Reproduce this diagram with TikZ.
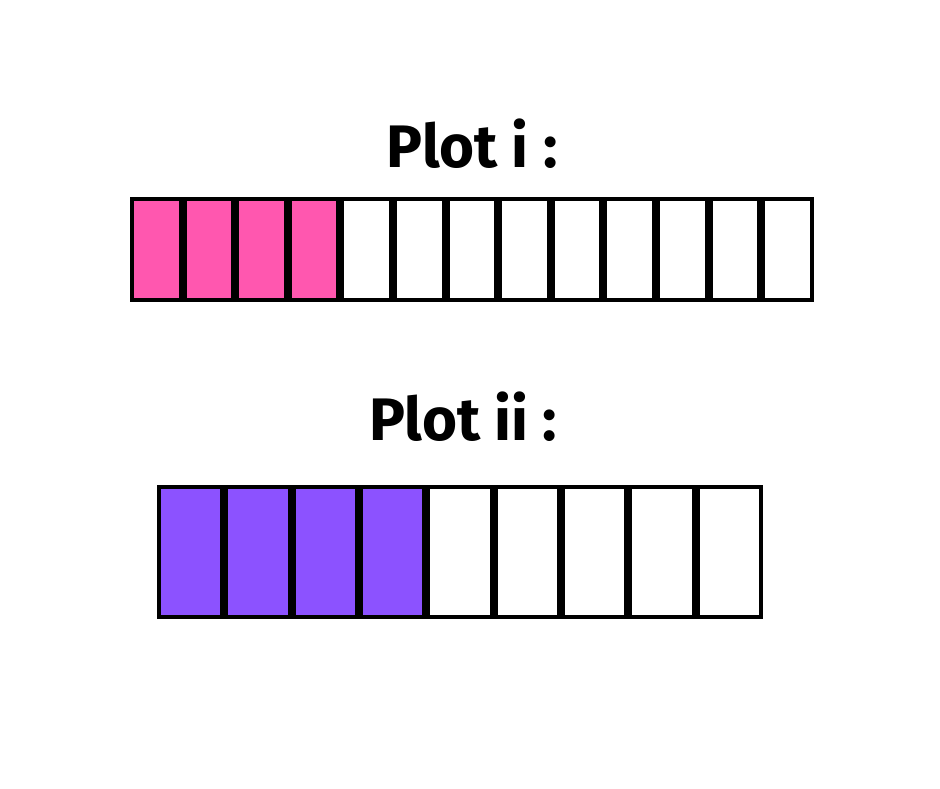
\documentclass[tikz,border=0pt]{standalone}
\usepackage{fontspec}
\setmainfont{Fira Sans}
\definecolor{pinkfill}{HTML}{FF57AF}
\definecolor{purplefill}{HTML}{8C52FF}
\tikzset{
  cell/.style={draw=black, line width=4pt, inner sep=0pt, outer sep=0pt, anchor=north west},
  cellA/.style={cell, minimum width=48.6pt, minimum height=101pt},
  cellB/.style={cell, minimum width=63.33pt, minimum height=130pt},
  title/.style={font=\fontsize{60}{66}\selectfont\bfseries, anchor=base, inner sep=0pt}
}
\begin{document}
\begin{tikzpicture}[x=1pt,y=-1pt]
\useasboundingbox[fill=white] (0,0) rectangle (940,788);
\node[title] (t1) at (472,167) {Plot i :};
\node[title] (t2) at (463,440) {Plot ii :};
\foreach \i in {0,...,12}{
  \ifnum\i<4
    \node[cellA, fill=pinkfill] (a\i) at (132+\i*52.6,199) {};
  \else
    \node[cellA, fill=white] (a\i) at (132+\i*52.6,199) {};
  \fi
}
\foreach \i in {0,...,8}{
  \ifnum\i<4
    \node[cellB, fill=purplefill] (b\i) at (159+\i*67.33,487) {};
  \else
    \node[cellB, fill=white] (b\i) at (159+\i*67.33,487) {};
  \fi
}
\end{tikzpicture}
\end{document}
